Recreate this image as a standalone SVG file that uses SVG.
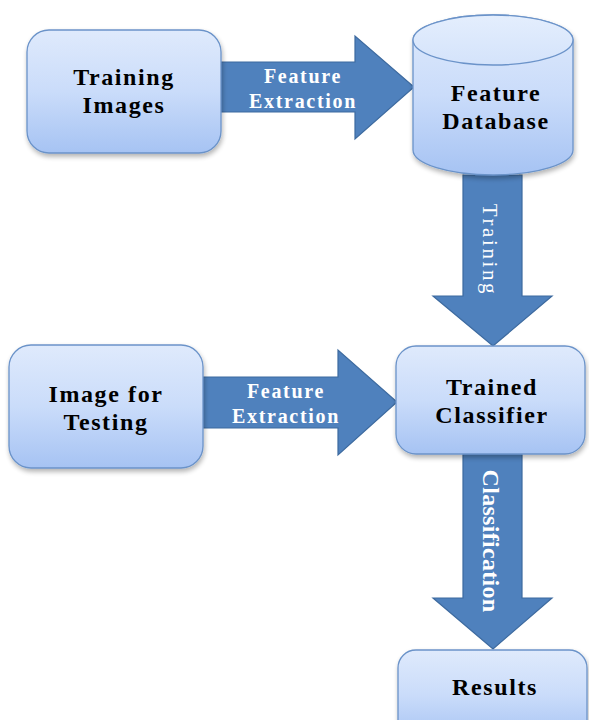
<svg xmlns="http://www.w3.org/2000/svg" width="589" height="720" viewBox="0 0 589 720">
  <defs>
    <linearGradient id="boxFill" x1="0" y1="0" x2="0" y2="1">
      <stop offset="0" stop-color="#dfeafc"/>
      <stop offset="0.5" stop-color="#cadcfa"/>
      <stop offset="1" stop-color="#a6c3f3"/>
    </linearGradient>
    <linearGradient id="topFill" x1="0" y1="0" x2="0" y2="1">
      <stop offset="0" stop-color="#e4eefd"/>
      <stop offset="1" stop-color="#d4e3fb"/>
    </linearGradient>
    <filter id="shadow" x="-10%" y="-10%" width="125%" height="130%">
      <feGaussianBlur in="SourceAlpha" stdDeviation="2.5"/>
      <feOffset dx="1" dy="3" result="b"/>
      <feComponentTransfer><feFuncA type="linear" slope="0.3"/></feComponentTransfer>
      <feMerge><feMergeNode/><feMergeNode in="SourceGraphic"/></feMerge>
    </filter>
  </defs>
  <style>
    .box { fill: url(#boxFill); stroke: #6b93c9; stroke-width: 1.3; filter: url(#shadow); }
    .arrow { fill: #4f81bd; stroke: #3d6a9f; stroke-width: 1.2; }
    .node { font-family: "Liberation Serif", "Times New Roman", serif; font-weight: bold; font-size: 24px; letter-spacing: 1.6px; fill: #000; text-anchor: middle; }
    .lbl { font-family: "Liberation Serif", "Times New Roman", serif; font-weight: bold; font-size: 20px; letter-spacing: 1.7px; fill: #fff; text-anchor: middle; }
  </style>

  <!-- connectors: block arrows with their labels -->
  <g id="connectors">
    <g id="arrow-extract-train">
      <path class="arrow" d="M221,62 H355 V36 L414,87 L355,139 V112 H221 Z"/>
      <text class="lbl" x="303" y="83">Feature</text>
      <text class="lbl" x="303" y="108">Extraction</text>
    </g>
    <g id="arrow-training">
      <path class="arrow" d="M463,175 H522 V296 H552 L493,346 L433,296 H463 Z"/>
      <text class="lbl" transform="translate(483,250) rotate(90)" style="font-weight:normal;font-size:21px;letter-spacing:2.6px">Training</text>
    </g>
    <g id="arrow-extract-test">
      <path class="arrow" d="M203,377 H338 V350 L397,402 L338,455 V428 H203 Z"/>
      <text class="lbl" x="286" y="398">Feature</text>
      <text class="lbl" x="286" y="423">Extraction</text>
    </g>
    <g id="arrow-classification">
      <path class="arrow" d="M463,454 H522 V598 H552 L493,649 L433,598 H463 Z"/>
      <text class="lbl" transform="translate(483,541) rotate(90)" style="font-size:24px;letter-spacing:0.3px">Classification</text>
    </g>
  </g>

  <!-- nodes -->
  <g id="training-images">
    <rect class="box" x="27" y="30" width="194" height="123" rx="22"/>
    <text class="node" x="124" y="85">Training</text>
    <text class="node" x="124" y="113">Images</text>
  </g>

  <g id="feature-database">
    <path class="box" d="M413,40 A80,25 0 0 1 573,40 V150 A80,25 0 0 1 413,150 Z"/>
    <ellipse cx="493" cy="40" rx="80" ry="25" fill="url(#topFill)" stroke="#6b93c9" stroke-width="1.3"/>
    <text class="node" x="496" y="101">Feature</text>
    <text class="node" x="496" y="129">Database</text>
  </g>

  <g id="image-for-testing">
    <rect class="box" x="9" y="345" width="194" height="123" rx="22"/>
    <text class="node" x="106" y="402">Image for</text>
    <text class="node" x="106" y="430">Testing</text>
  </g>

  <g id="trained-classifier">
    <rect class="box" x="396" y="346" width="189" height="108" rx="20"/>
    <text class="node" x="492" y="395">Trained</text>
    <text class="node" x="492" y="423">Classifier</text>
  </g>

  <g id="results">
    <rect class="box" x="398" y="650" width="189" height="90" rx="18"/>
    <text class="node" x="495" y="695">Results</text>
  </g>
</svg>
